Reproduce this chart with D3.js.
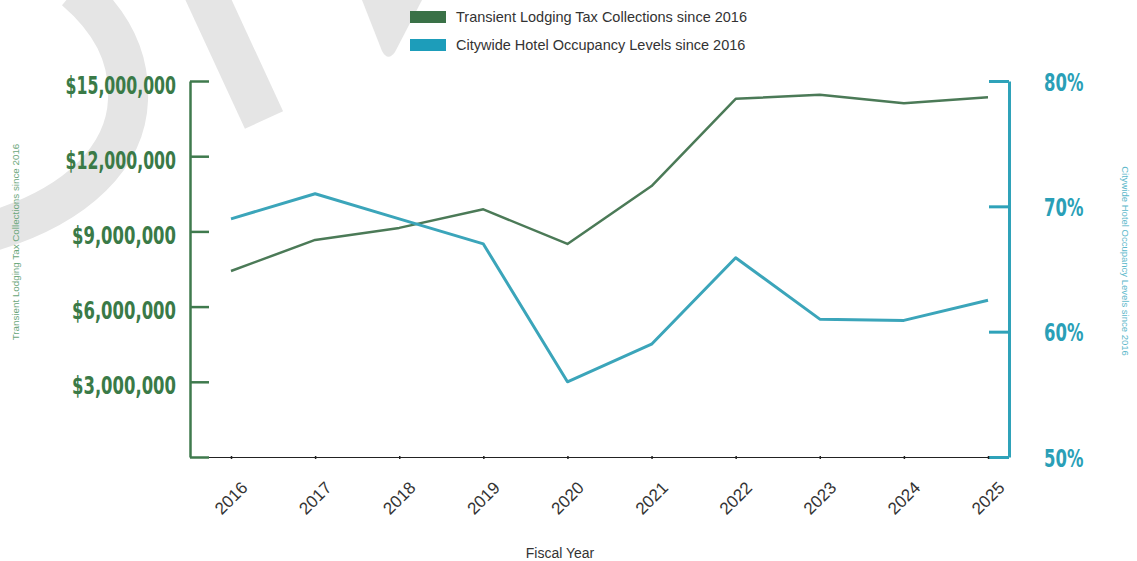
<!DOCTYPE html>
<html>
<head>
<meta charset="utf-8">
<script src="https://cdn.jsdelivr.net/npm/d3@7"></script>
<style>
    body { margin: 0; background: #fff; }
    text { font-family: "Liberation Sans", Arial, sans-serif; }
</style>
</head>
<body>
<div id="chart"></div>
<script>
const years = ["2016", "2017", "2018", "2019", "2020", "2021", "2022", "2023", "2024", "2025"];
const taxCollections = [7420000, 8660000, 9140000, 9880000, 8500000, 10810000, 14290000, 14450000, 14110000, 14350000];
const occupancy = [69.0, 71.0, 69.0, 67.0, 56.0, 59.0, 65.9, 61.0, 60.9, 62.5];
const taxTicks = [0, 3000000, 6000000, 9000000, 12000000, 15000000];
const occTicks = [50, 60, 70, 80];
const seriesNames = ["Transient Lodging Tax Collections since 2016", "Citywide Hotel Occupancy Levels since 2016"];

const W = 1137, H = 561;
const plotLeft = 190, plotRight = 1009, plotTop = 81, plotBottom = 457;

const green = "#3f7a4d", blue = "#2fa2b9";

const svg = d3.select("#chart").append("svg")
    .attr("width", W)
    .attr("height", H);

// watermark remnants (big grey letters cut off by the page edge)
const wm = svg.append("g").attr("fill", "none").attr("stroke", "#e5e5e5");
wm.append("path")
    .attr("stroke-width", 40)
    .attr("d", "M75,-10 C110,20 130,55 128,100 C126,155 80,205 -10,232");
wm.append("path")
    .attr("stroke-width", 42)
    .attr("d", "M203,-12 L264,120");
wm.append("path")
    .attr("stroke", "none")
    .attr("fill", "#e5e5e5")
    .attr("d", "M362,0 L382,51 Q388,62 395,52 L422,0 Z");

// scales
const x = d3.scalePoint().domain(years).range([231, 988]);
const yTax = d3.scaleLinear().domain([0, 15000000]).range([plotBottom, plotTop]);
const yOcc = d3.scaleLinear().domain([50, 80]).range([plotBottom, plotTop]);

const tickFont = "'Liberation Sans Narrow', 'DejaVu Sans Condensed', 'Arial Narrow', sans-serif";

// left axis
const leftAxis = svg.append("g")
    .attr("transform", `translate(${plotLeft},0)`)
    .call(d3.axisLeft(yTax)
        .tickValues(taxTicks)
        .tickSize(-19)
        .tickSizeOuter(0)
        .tickPadding(14)
        .tickFormat(d => d ? "$" + d3.format(",")(d) : ""));
leftAxis.select(".domain").attr("stroke", green).attr("stroke-width", 2.5);
leftAxis.selectAll(".tick line").attr("stroke", green).attr("stroke-width", 2.5);
leftAxis.selectAll(".tick text")
    .attr("fill", "#3a7a47")
    .attr("dy", "0.5em")
    .style("font-family", tickFont)
    .style("font-weight", "bold")
    .style("font-size", "24px");

// right axis
const rightAxis = svg.append("g")
    .attr("transform", `translate(${plotRight},0)`)
    .call(d3.axisRight(yOcc)
        .tickValues(occTicks)
        .tickSize(-20)
        .tickSizeOuter(0)
        .tickPadding(35)
        .tickFormat(d => d + "%"));
rightAxis.select(".domain").attr("stroke", blue).attr("stroke-width", 3);
rightAxis.selectAll(".tick line").attr("stroke", blue).attr("stroke-width", 3);
rightAxis.selectAll(".tick text")
    .attr("fill", "#2a9fb7")
    .attr("dy", "0.38em")
    .style("font-family", tickFont)
    .style("font-weight", "bold")
    .style("font-size", "24px");

// squeeze the tick labels to a condensed look (the "1" is narrow in the original face)
let k = 1;
leftAxis.selectAll(".tick text").each(function (d) {
    if (d === 9000000) k = 104 / this.getComputedTextLength();
});
svg.selectAll(".tick text").each(function () {
    const len = this.getComputedTextLength();
    const ones = (this.textContent.match(/1/g) || []).length;
    if (len > 0) d3.select(this)
        .attr("textLength", len * k - ones * 5)
        .attr("lengthAdjust", "spacingAndGlyphs");
});

// bottom axis
svg.append("line")
    .attr("x1", plotLeft + 19).attr("x2", plotRight - 20)
    .attr("y1", yTax(0) + 0.5).attr("y2", yTax(0) + 0.5)
    .attr("stroke", "#222").attr("stroke-width", 1.2);
const xAxis = svg.append("g")
    .attr("transform", `translate(0,${yTax(0) - 1})`)
    .call(d3.axisBottom(x).tickSize(3).tickFormat(""));
xAxis.select(".domain").remove();
xAxis.selectAll(".tick line").attr("stroke", "#222").attr("stroke-width", 1.5);

svg.append("g").selectAll("text")
    .data(years)
    .enter()
    .append("text")
    .attr("transform", d => `translate(${x(d)},498) rotate(-45)`)
    .attr("text-anchor", "middle")
    .attr("dy", "0.35em")
    .attr("fill", "#333")
    .style("font-size", "17px")
    .text(d => d);

// axis titles
svg.append("text")
    .attr("x", 560).attr("y", 558)
    .attr("text-anchor", "middle")
    .attr("fill", "#333")
    .style("font-size", "14px")
    .text("Fiscal Year");

svg.append("text")
    .attr("transform", "translate(16,242) rotate(-90)")
    .attr("text-anchor", "middle")
    .attr("dy", "0.35em")
    .attr("fill", "#6aa67a")
    .style("font-size", "9.8px")
    .text(seriesNames[0]);

svg.append("text")
    .attr("transform", "translate(1125,261) rotate(90)")
    .attr("text-anchor", "middle")
    .attr("dy", "0.35em")
    .attr("fill", "#5cb8ca")
    .style("font-size", "9.5px")
    .text(seriesNames[1]);

// lines
const taxLine = d3.line()
    .x((d, i) => x(years[i]))
    .y(d => yTax(d));
const occLine = d3.line()
    .x((d, i) => x(years[i]))
    .y(d => yOcc(d));

svg.append("path")
    .datum(taxCollections)
    .attr("fill", "none")
    .attr("stroke", "#4b7a57")
    .attr("stroke-width", 2.5)
    .attr("stroke-linejoin", "round")
    .attr("d", taxLine);

svg.append("path")
    .datum(occupancy)
    .attr("fill", "none")
    .attr("stroke", "#3ba5ba")
    .attr("stroke-width", 3)
    .attr("stroke-linejoin", "round")
    .attr("d", occLine);

// legend
const legendColors = ["#3a7147", "#1d9dba"];
const legend = svg.append("g").attr("transform", "translate(410,11)");
seriesNames.forEach((name, i) => {
    legend.append("rect")
        .attr("x", 0).attr("y", i * 28)
        .attr("width", 36).attr("height", 12)
        .attr("fill", legendColors[i]);
    legend.append("text")
        .attr("x", 46).attr("y", i * 28 + 11)
        .attr("fill", "#333")
        .style("font-size", "14.5px")
        .text(name);
});
</script>
</body>
</html>
